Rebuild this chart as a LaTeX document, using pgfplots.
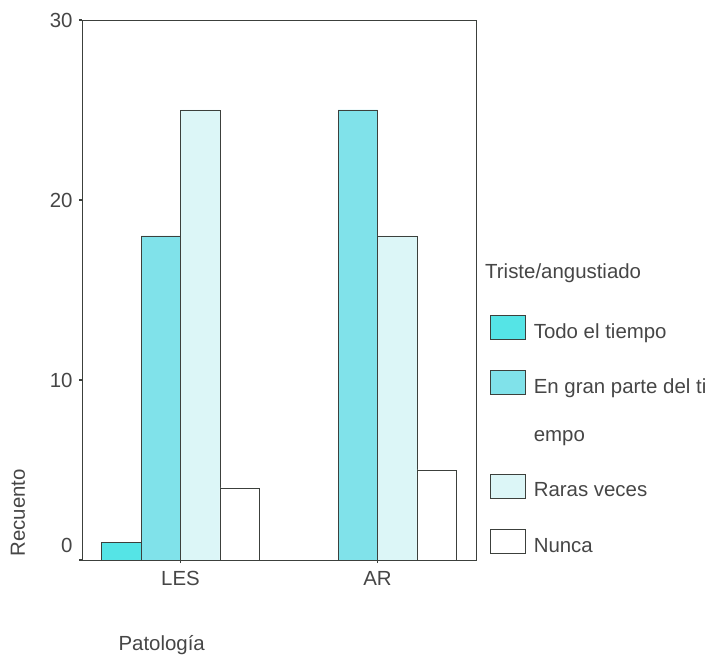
\documentclass[border=0pt]{standalone}
\usepackage{pgfplots}
\pgfplotsset{compat=1.18}
\usepackage{fontspec}
\setmainfont{Liberation Sans}

\definecolor{todo}{RGB}{85,228,230}
\definecolor{gran}{RGB}{128,226,234}
\definecolor{raras}{RGB}{220,246,247}
\definecolor{linea}{RGB}{60,64,60}
\definecolor{texto}{RGB}{70,70,70}

\begin{document}
\begin{tikzpicture}
\useasboundingbox (0,0) rectangle (711bp,659bp);
\begin{axis}[
    at={(82bp,99bp)}, anchor=south west,
    scale only axis,
    width=394bp, height=540bp,
    ybar,
    bar width=0.2,
    xmin=-0.5, xmax=1.5,
    ymin=0, ymax=30,
    xtick={0,1},
    xticklabels={LES,AR},
    ytick={10,20,30},
    extra y ticks={0},
    extra y tick style={yticklabel style={yshift=15bp}},
    xtick pos=left, ytick pos=left,
    tick align=outside,
    major tick length=3bp,
    every tick/.style={linea, line width=1.6pt},
    axis line style={linea, line width=0.6pt},
    font=\fontsize{20.5}{24}\selectfont,
    every tick label/.style={texto},
    xticklabel style={yshift=-5bp},
    yticklabel style={xshift=-3bp},
    /pgf/number format/assume math mode=true,
    xlabel={Patología},
    xlabel style={at={(axis description cs:0.0838,-0.157)}, anchor=west, texto},
    ylabel={Recuento},
    ylabel style={at={(axis description cs:-0.1624,0)}, anchor=west, texto},
    legend cell align=left,
    legend image code/.code={\draw[#1] (0bp,-5bp) rectangle (35bp,19bp);},
    legend style={at={(axis description cs:1.0355,0.454)}, anchor=north west,
        draw=none, fill=none, inner sep=0pt, row sep=24bp, column sep=8bp,
        font=\fontsize{20.5}{24}\selectfont, text=texto,
        nodes={inner sep=0pt, text height=16bp, text depth=8bp}},
]
\addplot[fill=todo, draw=linea, line width=0.6pt, bar shift=-0.3]
    coordinates {(0,1)};
\addlegendentry{Todo el tiempo}
\addplot[fill=gran, draw=linea, line width=0.6pt, bar shift=-0.1]
    coordinates {(0,18) (1,25)};
\addlegendentry{En gran parte del ti}
\addlegendimage{empty legend}
\addlegendentry{empo}
\addplot[fill=raras, draw=linea, line width=0.6pt, bar shift=0.1]
    coordinates {(0,25) (1,18)};
\addlegendentry{Raras veces}
\addplot[fill=white, draw=linea, line width=0.6pt, bar shift=0.3]
    coordinates {(0,4) (1,5)};
\addlegendentry{Nunca}
\end{axis}
\node[anchor=west, text=texto, font=\fontsize{20.5}{24}\selectfont, inner sep=0pt]
    at (485bp,386bp) {Triste/angustiado};
\end{tikzpicture}
\end{document}
